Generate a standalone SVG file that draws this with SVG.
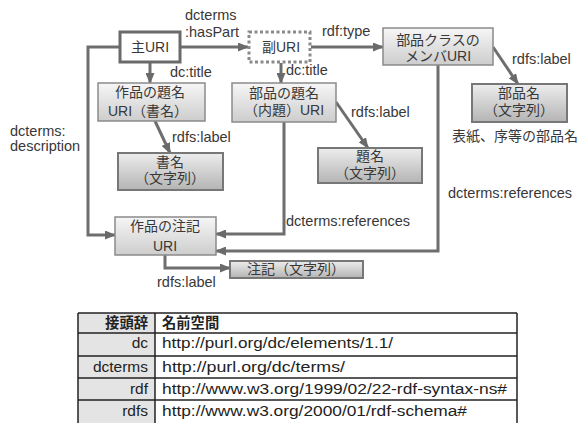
<svg xmlns="http://www.w3.org/2000/svg" width="579" height="423" viewBox="0 0 579 423">
<defs>
<linearGradient id="gUri" x1="0" y1="0" x2="0" y2="1">
<stop offset="0" stop-color="#f6f6f6"/><stop offset="1" stop-color="#cdcdcd"/>
</linearGradient>
<linearGradient id="gLit" x1="0" y1="0" x2="0" y2="1">
<stop offset="0" stop-color="#ededed"/><stop offset="1" stop-color="#b4b4b4"/>
</linearGradient>
<marker id="arr" markerUnits="userSpaceOnUse" markerWidth="11" markerHeight="9" refX="10" refY="4.5" orient="auto">
<path d="M0,0 L11,4.5 L0,9 z" fill="#6a6a6a"/>
</marker>
<style>
text{font-family:"Liberation Sans","Noto Sans CJK JP",sans-serif;fill:#383838;}
.n{font-size:14px;text-anchor:middle;}
.l{font-size:14.5px;}
.c{fill:none;stroke:#6e6e6e;stroke-width:3;}
.a{marker-end:url(#arr);}
.bu{fill:url(#gUri);stroke:#8a8a8a;stroke-width:1.5;}
.bl{fill:url(#gLit);stroke:#777;stroke-width:2;}
.t{font-size:15.5px;fill:#222;}
.th{font-size:14.3px;font-weight:bold;fill:#222;}
.r{text-anchor:end;}
.tl{stroke:#222;stroke-width:1.5;}
</style>
</defs>

<g id="connectors">
<line class="c a" x1="180" y1="47" x2="248" y2="47"/>
<line class="c a" x1="311" y1="47" x2="383" y2="47"/>
<line class="c a" x1="150" y1="63" x2="150" y2="83"/>
<line class="c a" x1="281" y1="63" x2="281" y2="83"/>
<line class="c a" x1="493" y1="47" x2="518" y2="84"/>
<line class="c a" x1="155" y1="121" x2="170" y2="153"/>
<line class="c a" x1="336" y1="102" x2="368" y2="148"/>
<polyline class="c a" points="119,47 88,47 88,235 115,235"/>
<polyline class="c a" points="284,122 284,234 216,234"/>
<polyline class="c a" points="438,65 438,251 216,251"/>
<polyline class="c a" points="165,255 165,268 230,268"/>
<text class="l" x="185" y="20">dcterms</text>
<text class="l" x="185" y="37">:hasPart</text>
<text class="l" x="322" y="36">rdf:type</text>
<text class="l" x="170" y="77">dc:title</text>
<text class="l" x="286" y="75">dc:title</text>
<text class="l" x="172" y="142">rdfs:label</text>
<text class="l" x="351" y="117">rdfs:label</text>
<text class="l" x="512" y="64">rdfs:label</text>
<text class="l" x="10" y="136">dcterms:</text>
<text class="l" x="10" y="151">description</text>
<text class="l" x="286" y="226">dcterms:references</text>
<text class="l" x="448" y="198">dcterms:references</text>
<text class="l" x="157" y="287">rdfs:label</text>
</g>

<g id="main-uri">
<rect x="120" y="32" width="60" height="30" fill="#fff" stroke="#6a6a6a" stroke-width="3"/>
<text class="n" x="150" y="52">主URI</text>
</g>
<g id="sub-uri">
<rect x="249" y="32" width="61" height="30" fill="#fff" stroke="#8a8a8a" stroke-width="3" stroke-dasharray="3 2.5"/>
<text class="n" x="281" y="52">副URI</text>
</g>
<g id="part-class-member">
<rect class="bu" x="383" y="28" width="110" height="37"/>
<text class="n" x="438" y="45">部品クラスの</text>
<text class="n" x="438" y="61">メンバURI</text>
</g>
<g id="part-name">
<rect class="bl" x="472" y="84" width="95" height="38"/>
<text class="n" x="519" y="98">部品名</text>
<text class="n" x="519" y="115">（文字列）</text>
</g>
<g id="part-name-note">
<text x="452" y="141" style="font-size:14px">表紙、序等の部品名</text>
</g>
<g id="work-title-uri">
<rect class="bu" x="98" y="83" width="107" height="38"/>
<text class="n" x="150" y="97">作品の題名</text>
<text class="n" x="148" y="116">URI（書名）</text>
</g>
<g id="part-title-uri">
<rect class="bu" x="232" y="83" width="104" height="39"/>
<text class="n" x="284" y="98">部品の題名</text>
<text class="n" x="284" y="115">（内題）URI</text>
</g>
<g id="work-title-literal">
<rect class="bl" x="118" y="153" width="105" height="37"/>
<text class="n" x="170" y="167">書名</text>
<text class="n" x="170" y="183">（文字列）</text>
</g>
<g id="part-title-literal">
<rect class="bl" x="318" y="148" width="104" height="35"/>
<text class="n" x="370" y="161">題名</text>
<text class="n" x="370" y="178">（文字列）</text>
</g>
<g id="work-note-uri">
<rect class="bu" x="115" y="217" width="101" height="38"/>
<text class="n" x="165" y="231">作品の注記</text>
<text class="n" x="165" y="251">URI</text>
</g>
<g id="note-literal">
<rect class="bl" x="230" y="261" width="133" height="17"/>
<text class="n" x="296" y="274">注記（文字列）</text>
</g>

<g id="namespace-table">
<rect x="78" y="313" width="77" height="112" fill="#e4e4e4"/>
<rect x="155" y="313" width="362" height="112" fill="#fff"/>
<line class="tl" x1="78" y1="313" x2="517" y2="313"/>
<line class="tl" x1="78" y1="333" x2="517" y2="333"/>
<line class="tl" x1="78" y1="356" x2="517" y2="356"/>
<line class="tl" x1="78" y1="378" x2="517" y2="378"/>
<line class="tl" x1="78" y1="400" x2="517" y2="400"/>
<line class="tl" x1="78" y1="313" x2="78" y2="423"/>
<line class="tl" x1="155" y1="313" x2="155" y2="423"/>
<line class="tl" x1="517" y1="313" x2="517" y2="423"/>
<text class="th r" x="148" y="328">接頭辞</text>
<text class="th" x="162" y="328">名前空間</text>
<text class="t r" x="148" y="348">dc</text>
<text class="t" x="162" y="348" textLength="231" lengthAdjust="spacingAndGlyphs">http://purl.org/dc/elements/1.1/</text>
<text class="t r" x="148" y="372">dcterms</text>
<text class="t" x="162" y="372" textLength="183" lengthAdjust="spacingAndGlyphs">http://purl.org/dc/terms/</text>
<text class="t r" x="148" y="394">rdf</text>
<text class="t" x="162" y="394" textLength="345" lengthAdjust="spacingAndGlyphs">http://www.w3.org/1999/02/22-rdf-syntax-ns#</text>
<text class="t r" x="148" y="416">rdfs</text>
<text class="t" x="162" y="416" textLength="305" lengthAdjust="spacingAndGlyphs">http://www.w3.org/2000/01/rdf-schema#</text>
</g>
</svg>
